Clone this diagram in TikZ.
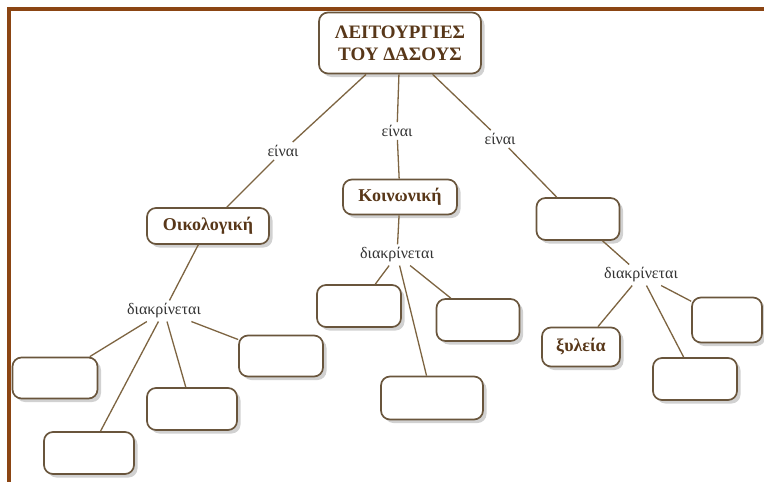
\documentclass[tikz,border=0pt]{standalone}
\usepackage{fontspec}
\setmainfont{Liberation Serif}
\usetikzlibrary{shadows}
\definecolor{frameBrown}{RGB}{139,69,19}
\definecolor{boxEdge}{RGB}{105,85,60}
\definecolor{titleBrown}{RGB}{88,55,25}
\definecolor{lineBrown}{RGB}{125,100,65}

\begin{document}
\begin{tikzpicture}[x=1pt,y=-1pt,
    concept/.style={draw=boxEdge, line width=1.7pt, rounded corners=9pt, fill=white,
      drop shadow={shadow xshift=3.5pt, shadow yshift=-3.5pt, fill=black, opacity=0.18},
      inner sep=2pt, align=center, text=titleBrown,
      font=\bfseries\fontsize{18}{22}\selectfont},
    verb/.style={inner sep=3pt, text=black!80, font=\fontsize{16}{18}\selectfont},
    link/.style={draw=lineBrown, line width=1.3pt}]
  \useasboundingbox (0,0) rectangle (764,482);
  \fill[white] (0,0) rectangle (764,482);
  \draw[frameBrown, line width=4pt] (764,9) -- (9,9) -- (9,482);

  \node[concept, minimum width=162pt, minimum height=61pt,
    font=\bfseries\fontsize{19}{22}\selectfont] (root) at (400,43)
    {ΛΕΙΤΟΥΡΓΙΕΣ\\ΤΟΥ ΔΑΣΟΥΣ};

  \node[verb] (einaiL) at (283,151) {είναι};
  \node[verb] (einaiM) at (397,131) {είναι};
  \node[verb] (einaiR) at (500,139) {είναι};

  \node[concept, minimum width=122pt, minimum height=36pt] (oiko) at (208,226) {Οικολογική};
  \node[concept, minimum width=114pt, minimum height=35pt] (koin) at (400,197) {Κοινωνική};
  \node[concept, minimum width=83pt, minimum height=42pt] (third) at (578,219) {};

  \node[verb] (diakrL) at (164,311) {διακρίνεται};
  \node[verb] (diakrM) at (397,255) {διακρίνεται};
  \node[verb] (diakrR) at (641,275) {διακρίνεται};

  \node[concept, minimum width=85pt, minimum height=41pt] (oikoA) at (55,378) {};
  \node[concept, minimum width=90pt, minimum height=42pt] (oikoB) at (89,453) {};
  \node[concept, minimum width=90pt, minimum height=42pt] (oikoC) at (192,409) {};
  \node[concept, minimum width=84pt, minimum height=41pt] (oikoD) at (281,356) {};

  \node[concept, minimum width=84pt, minimum height=42pt] (koinA) at (359,306) {};
  \node[concept, minimum width=102pt, minimum height=43pt] (koinB) at (432,398) {};
  \node[concept, minimum width=83pt, minimum height=42pt] (koinC) at (478,320) {};

  \node[concept, minimum width=78pt, minimum height=39pt] (xyleia) at (581,347) {ξυλεία};
  \node[concept, minimum width=84pt, minimum height=42pt] (thirdB) at (695,379) {};
  \node[concept, minimum width=70pt, minimum height=45pt] (thirdC) at (727,320) {};

  \draw[link] (root) -- (einaiL) (einaiL) -- (oiko);
  \draw[link] (root) -- (einaiM) (einaiM) -- (koin);
  \draw[link] (root) -- (einaiR) (einaiR) -- (third);

  \draw[link] (oiko) -- (diakrL);
  \draw[link] (diakrL) -- (oikoA) (diakrL) -- (oikoB) (diakrL) -- (oikoC) (diakrL) -- (oikoD);

  \draw[link] (koin) -- (diakrM);
  \draw[link] (diakrM) -- (koinA) (diakrM) -- (koinB) (diakrM) -- (koinC);

  \draw[link] (third) -- (diakrR);
  \draw[link] (diakrR) -- (xyleia) (diakrR) -- (thirdB) (diakrR) -- (thirdC);
\end{tikzpicture}
\end{document}
